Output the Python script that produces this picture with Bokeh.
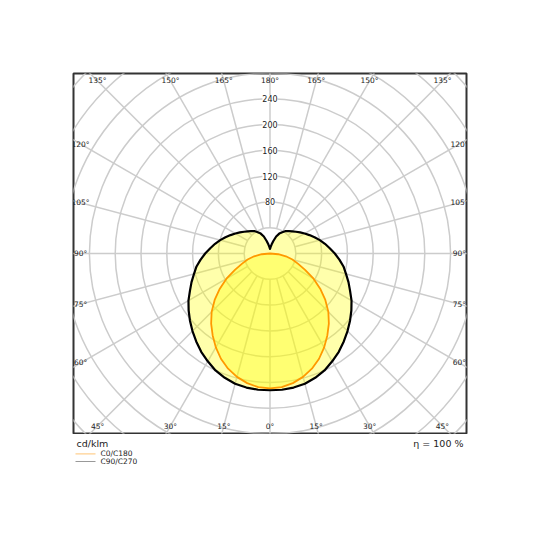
import numpy as np
from bokeh.plotting import figure
from bokeh.layouts import column
from bokeh.models import Range1d, Label
from bokeh.core.properties import value
from bokeh.embed import file_html
from bokeh.resources import INLINE

# ---- data (cd/klm) ----
gamma = list(range(0, 181, 5))
c0_c180 = [209, 208, 204, 198, 190, 180, 168, 155, 142, 128, 112, 95, 78, 60, 46, 36, 25, 13, 0,
           0, 0, 0, 0, 0, 0, 0, 0, 0, 0, 0, 0, 0, 0, 0, 0, 0, 0]
c90_c270 = [212, 212, 211, 209, 205, 200, 193, 186, 178, 170, 162, 154, 146, 137, 129.5, 122, 115.7, 108, 100.5,
            93, 86.5, 80, 73.5, 67.5, 62, 57, 52.5, 48.5, 45.5, 42.5, 38, 34, 28, 20, 14, 10, 7]
circle_values = [40, 80, 120, 160, 200, 240, 280, 320, 360, 400, 440]
labeled_values = [80, 120, 160, 200, 240]
angle_ticks = list(range(0, 181, 15))
unit_text = "cd/klm"
eta_text = "η = 100 %"
series_names = ["C0/C180", "C90/C270"]
legend_colors = ["#ffd090", "#999999"]

FONT = "DejaVu Sans"
GRID = "#cccccc"
TXT = "#222222"
W = 532
FL, FW = 73, 393  # frame left / width in px

p = figure(width=W, height=434, output_backend="svg", toolbar_location=None,
           x_range=Range1d(-304.7, 304.7), y_range=Range1d(-279, 279),
           x_axis_location=None, y_axis_location=None,
           min_border_left=FL, min_border_right=W - FL - FW, min_border_top=73, min_border_bottom=1)
p.grid.visible = False
p.outline_line_color = "#333333"
p.outline_line_width = 2
p.background_fill_color = "white"
p.border_fill_color = "white"

# concentric circles
p.circle(x=[0] * len(circle_values), y=[0] * len(circle_values), radius=circle_values,
         fill_color=None, line_color=GRID, line_width=1.5)

# radial lines every 15 deg, starting at the first circle
ang = np.deg2rad(np.arange(0, 360, 15))
r0, r1 = circle_values[0], 600
p.segment(x0=r0 * np.sin(ang), y0=-r0 * np.cos(ang), x1=r1 * np.sin(ang), y1=-r1 * np.cos(ang),
          line_color=GRID, line_width=1.5)

# polar curves
def outline(vals):
    g = np.deg2rad(np.array(gamma, dtype=float))
    v = np.array(vals, dtype=float)
    xr, yr = v * np.sin(g), -v * np.cos(g)
    xs = np.concatenate([xr, -xr[::-1]])
    ys = np.concatenate([yr, yr[::-1]])
    return xs, ys

bx, by = outline(c90_c270)
ox, oy = outline(c0_c180)
p.patch(bx, by, fill_color="#ffff00", fill_alpha=0.33, line_color=None)
p.patch(ox, oy, fill_color="#ffff00", fill_alpha=0.33, line_color=None)
p.line(ox, oy, line_color="#ff9900", line_width=1.8, line_join="round")
p.line(bx, by, line_color="black", line_width=2.2, line_join="round")

# value labels along upper vertical
for v in labeled_values:
    p.add_layout(Label(x=0, y=v, text=str(v), text_align="center", text_baseline="middle",
                       text_font=FONT, text_font_size="8px", text_color=TXT,
                       background_fill_color="white", background_fill_alpha=1.0))

# angle labels at inset rectangle
hw, hh = 293.8, 267.4
lx, ly, lt = [], [], []
for g in angle_ticks:
    sides = [1] if g in (0, 180) else [-1, 1]
    for s in sides:
        gr = np.deg2rad(g)
        dx, dy = s * np.sin(gr), -np.cos(gr)
        t = min(hw / abs(dx) if abs(dx) > 1e-9 else 1e9, hh / abs(dy) if abs(dy) > 1e-9 else 1e9)
        lx.append(t * dx)
        ly.append(t * dy)
        lt.append(f"{g}°")
p.text(x=lx, y=ly, text=lt, text_align="center", text_baseline="middle",
       text_font=value(FONT), text_font_size="7.5px", text_color=TXT)

# ---- footer figure (x in page px over the aligned frame, y downward) ----
H2 = 60
q = figure(width=W, height=H2, output_backend="svg", toolbar_location=None,
           x_range=Range1d(FL, FL + FW), y_range=Range1d(H2, 0),
           x_axis_location=None, y_axis_location=None,
           min_border_left=FL, min_border_right=W - FL - FW, min_border_top=0, min_border_bottom=0)
q.grid.visible = False
q.outline_line_color = None
q.background_fill_color = "white"
q.border_fill_color = "white"

q.text(x=[76], y=[9.0], text=[unit_text], text_align="left", text_baseline="alphabetic",
       text_font=value(FONT), text_font_size="9.5px", text_color=TXT)
q.text(x=[463], y=[9.0], text=[eta_text], text_align="right", text_baseline="alphabetic",
       text_font=value(FONT), text_font_size="9.5px", text_color=TXT)

leg_y = [19.3, 27.0]
q.segment(x0=[75, 75], y0=leg_y, x1=[95, 95], y1=leg_y, line_color=legend_colors, line_width=1.2)
q.text(x=[100, 100], y=leg_y, text=series_names, text_align="left", text_baseline="middle",
       text_font=value(FONT), text_font_size="7.5px", text_color=TXT)

layout = column(p, q, spacing=0)
open("out.html", "w").write(file_html(layout, INLINE))
